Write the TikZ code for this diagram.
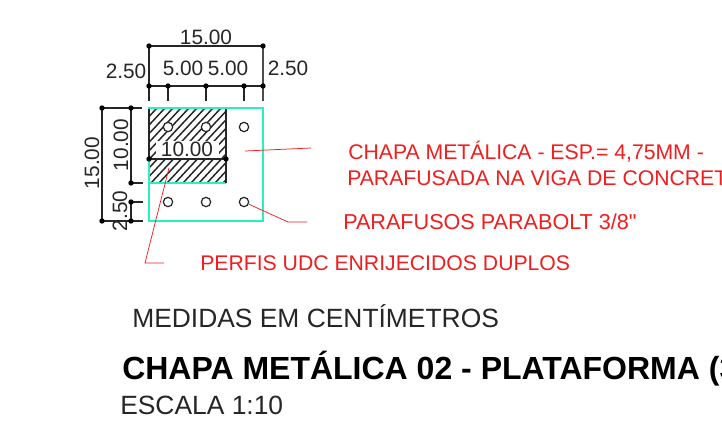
\documentclass[tikz,border=0pt]{standalone}
\usepackage{fontspec}
\setmainfont{Liberation Sans}
\newfontfamily\plainsans{Liberation Sans}
\definecolor{plate}{RGB}{40,240,190}
\definecolor{note}{RGB}{240,30,30}
\tikzset{
  dim/.style={line width=1pt,black!85},
  dimdot/.style={circle,fill=black,inner sep=0pt,minimum size=4pt},
  dimtxt/.style={font=\fontsize{15.6}{17}\selectfont,text=black!85,inner sep=0pt},
  notetxt/.style={font=\fontsize{15.9}{18}\selectfont,text=note,inner sep=0pt,anchor=base west},
  lead/.style={note,line width=0.55pt},
  bolt/.style={circle,draw=black!85,line width=0.9pt,inner sep=0pt,minimum size=7pt,fill=white},
  hatchln/.style={black!85,line width=1.1pt},
  pl/.style={plate,line width=1.1pt}
}
\begin{document}
\begin{tikzpicture}[x=0.75pt,y=-0.75pt]
\useasboundingbox (0,0) rectangle (722,446);
\fill[white] (0,0) rectangle (722,446);
% hatch
\begin{scope}
\clip (149,108) rectangle (226,183);
\foreach \d in {0,8,...,160}{
  \draw[hatchln] (149+\d-70,183) -- (149+\d,108);
}
\end{scope}
\fill[white] (156,141) rectangle (219,158);
% plate
\draw[pl] (149,108) rectangle (263,221);
\draw[pl] (149,183) -- (226,183);
\draw[dim] (149,109) -- (149,159) (226,109) -- (226,183);
\draw[pl] (149,108) -- (263,108);
% bolts
\foreach \x/\y/\n in {168/127/a,206/127/b,244/127/c,168/202/d,206/202/e,244/202/f}
  \node[bolt] (\n) at (\x,\y) {};
% horizontal dims
\coordinate (t1) at (149,46);\coordinate (t2) at (263,46);
\coordinate (m1) at (149,86);\coordinate (m2) at (168,86);\coordinate (m3) at (206,86);\coordinate (m4) at (244,86);\coordinate (m5) at (263,86);
\draw[dim] (t1) -- (t2);
\draw[dim] (m1) -- (m5);
\draw[dim] (t1) -- (149,101);
\draw[line width=1.3pt,black!70] (t2) -- (263,101);
\foreach \c in {m2,m3,m4}{\draw[dim] (\c) -- ++(0,15);}
\foreach \c in {t1,t2,m1,m2,m3,m4,m5}{\node[dimdot] at (\c) {};}
\node[dimtxt] (l15) at (206,37) {15.00};
\node[dimtxt] (l25a) at (126,71) {2.50};
\node[dimtxt] (l5a) at (183,68) {5.00};
\node[dimtxt] (l5b) at (228,68) {5.00};
\node[dimtxt] (l25b) at (288,68) {2.50};
% vertical dims
\coordinate (v1) at (102,108);\coordinate (v2) at (102,221);
\coordinate (w1) at (131,108);\coordinate (w2) at (131,183);\coordinate (w3) at (131,202);\coordinate (w4) at (131,221);
\draw[dim] (v1) -- (v2);
\draw[dim] (w1) -- (w2);
\draw[dim] (w3) -- (w4);
\draw[dim] (v1) -- (142,108);
\draw[dim] (v2) -- (143,221);
\draw[dim] (w2) -- (143,183);
\draw[dim] (w3) -- (143,202);
\foreach \c in {v1,v2,w1,w2,w3,w4}{\node[dimdot] at (\c) {};}
\node[dimtxt,rotate=90] (v15) at (92,163) {15.00};
\node[dimtxt,rotate=90] (v10) at (121,145) {10.00};
\node[dimtxt,rotate=90] (v25) at (120,211) {2.50};
% inner dim
\coordinate (i1) at (149,159);\coordinate (i2) at (226,159);
\draw[dim] (i1) -- (i2);
\node[dimdot] at (i1) {};\node[dimdot] at (i2) {};
\node[dimtxt] (l10) at (187,149) {10.00};
% leaders
\coordinate (n1) at (245,151);\coordinate (n1b) at (311,148);
\draw[lead] (n1) -- (n1b);
\coordinate (n2b) at (288,222);\coordinate (n2c) at (307,222);
\draw[lead] (f) -- (n2b) -- (n2c);
\coordinate (n3a) at (169,168);\coordinate (n3b) at (145,263);\coordinate (n3c) at (164,263);
\draw[lead] (n3a) -- (n3b) -- (n3c);
% notes
\node[notetxt] (t1n) at (348,159.5) {CHAPA METÁLICA - ESP.= 4,75MM -};
\node[notetxt] (t2n) at (347,185.5) {PARAFUSADA NA VIGA DE CONCRETO};
\node[notetxt,font=\fontsize{16.2}{18}\selectfont] (t3n) at (343,229.5) {\plainsans PARAFUSOS PARABOLT 3/8"};
\node[notetxt] (t4n) at (200,270) {PERFIS UDC ENRIJECIDOS DUPLOS};
% titles
\node[inner sep=0pt,anchor=base west,font=\fontsize{19.8}{22}\selectfont,text=black!85] (m) at (132,327.5) {MEDIDAS EM CENTÍMETROS};
\node[inner sep=0pt,anchor=base west,font=\bfseries\fontsize{24}{27}\selectfont,text=black] (ti) at (122,379) {CHAPA METÁLICA 02 - PLATAFORMA (3};
\node[inner sep=0pt,anchor=base west,font=\fontsize{19.8}{22}\selectfont,text=black!85] (es) at (120,414) {ESCALA 1:10};
\end{tikzpicture}
\end{document}
